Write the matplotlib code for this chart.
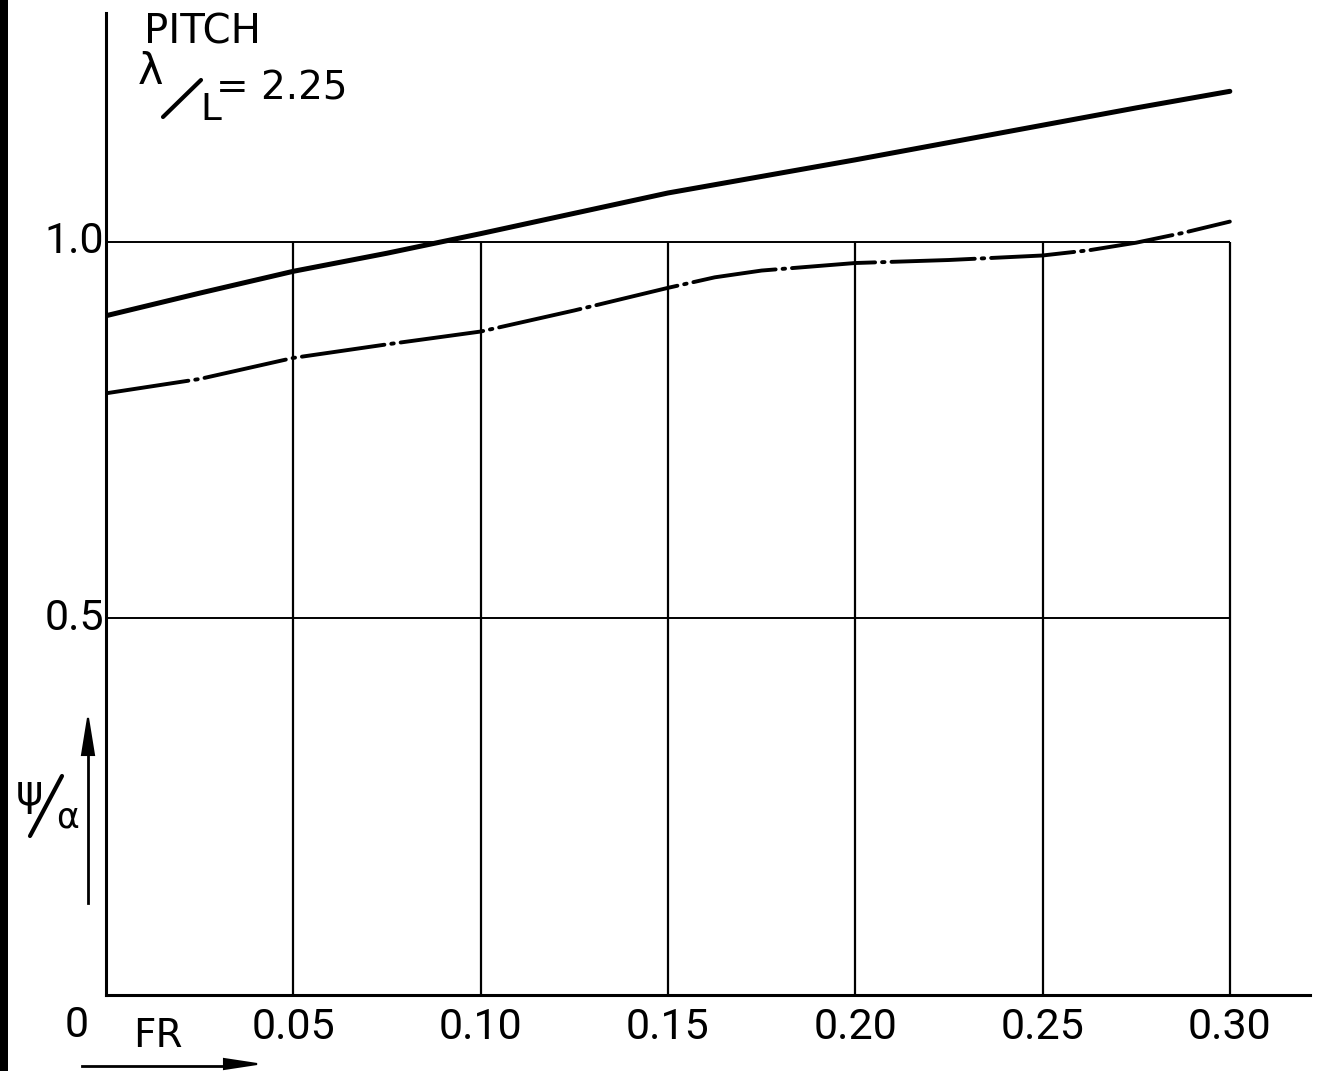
import matplotlib
matplotlib.use("Agg")
import matplotlib.pyplot as plt
from matplotlib.lines import Line2D
from matplotlib.patches import Rectangle

# Froude number stations and the two response curves
fr = [0.0, 0.025, 0.05, 0.075, 0.10, 0.125, 0.15, 0.175, 0.20, 0.225, 0.25, 0.275, 0.30]
psi_solid = [0.902, 0.932, 0.961, 0.985, 1.011, 1.038, 1.065, 1.087, 1.109, 1.132, 1.155, 1.178, 1.200]

fr_dd = [0.0, 0.025, 0.05, 0.075, 0.10, 0.1125, 0.125, 0.1375, 0.15, 0.1625, 0.175,
         0.1875, 0.20, 0.225, 0.25, 0.2625, 0.275, 0.2875, 0.30]
psi_dashdot = [0.799, 0.818, 0.846, 0.864, 0.881, 0.895, 0.909, 0.924, 0.939, 0.953, 0.962,
               0.967, 0.972, 0.976, 0.982, 0.989, 0.999, 1.012, 1.027]

x_ticks = [0.05, 0.10, 0.15, 0.20, 0.25, 0.30]
x_labels = ["0.05", "0.10", "0.15", "0.20", "0.25", "0.30"]
y_ticks = [0.5, 1.0]
y_labels = ["0.5", "1.0"]

plt.rcParams["lines.scale_dashes"] = False
W, H = 1318, 1071
fig = plt.figure(figsize=(W / 100, H / 100), dpi=100)
ax = fig.add_axes([106 / W, 1 - 995 / H, (1310 - 106) / W, (995 - 13) / H])
ax.set_xlim(0, 0.3214)
ax.set_ylim(0, 1.304)

for side in ("top", "right"):
    ax.spines[side].set_visible(False)
for side in ("left", "bottom"):
    ax.spines[side].set_linewidth(2.2)
ax.set_xticks([])
ax.set_yticks([])

# grid box
ax.vlines(x_ticks, 0, 1.0, color="black", linewidth=1.6)
ax.hlines(y_ticks, 0, 0.30, color="black", linewidth=1.4)

ax.plot(fr, psi_solid, color="black", linewidth=3.6, solid_capstyle="round")
ax.plot(fr_dd, psi_dashdot, color="black", linewidth=2.8,
        dashes=(60, 5, 1.8, 5), dash_capstyle="round")

tick_font = dict(family="Roboto", color="black", fontsize=31)
for xv, lab in zip(x_ticks, x_labels):
    ax.text(xv, -0.043, lab, ha="center", va="center", **tick_font)
ax.text(-0.0045, -0.041, "0", ha="right", va="center", **tick_font)
for yv, lab in zip(y_ticks, y_labels):
    ax.text(-0.0005, yv, lab, ha="right", va="center", **tick_font)


def fx(px):
    return px / W


def fy(py):
    return 1 - py / H


font = dict(family="DejaVu Sans", color="black")

# title block
fig.text(fx(144), fy(32), "PITCH", ha="left", va="center", fontsize=29, **font)
fig.text(fx(138), fy(72), "λ", ha="left", va="center", fontsize=31, **font)
fig.add_artist(Line2D([fx(163), fx(201)], [fy(117), fy(80)], color="black",
                      linewidth=3.0, solid_capstyle="round"))
fig.text(fx(200), fy(110), "L", ha="left", va="center", fontsize=27, **font)
fig.text(fx(216), fy(88), "= 2.25", ha="left", va="center", fontsize=28, **font)

# y-axis label with arrow
fig.text(fx(16), fy(793), "ψ", ha="left", va="center", fontsize=30, **font)
fig.add_artist(Line2D([fx(30), fx(62)], [fy(836), fy(776)], color="black",
                      linewidth=3.0, solid_capstyle="round"))
fig.text(fx(56), fy(818), "α", ha="left", va="center", fontsize=25, **font)
fig.add_artist(Line2D([fx(88), fx(88)], [fy(903), fy(745)], color="black", linewidth=2.0))
fig.add_artist(plt.Polygon([[fx(82), fy(755)], [fx(94), fy(755)], [fx(88), fy(718)]],
                           closed=True, facecolor="black", edgecolor="black", linewidth=1.5))

# x-axis label with arrow
fig.text(fx(133), fy(1036), "FR", ha="left", va="center", fontsize=28, **font)
fig.add_artist(Line2D([fx(82), fx(228)], [fy(1066), fy(1066)], color="black", linewidth=2.0))
fig.add_artist(plt.Polygon([[fx(224), fy(1059)], [fx(224), fy(1069)], [fx(257), fy(1064)]],
                           closed=True, facecolor="black", edgecolor="black", linewidth=1.5))

# dark strip along the left edge
fig.add_artist(Rectangle((0, 0), 8 / W, 1, transform=fig.transFigure,
                         color="black", linewidth=0))

fig.savefig("out.png", dpi=100)
